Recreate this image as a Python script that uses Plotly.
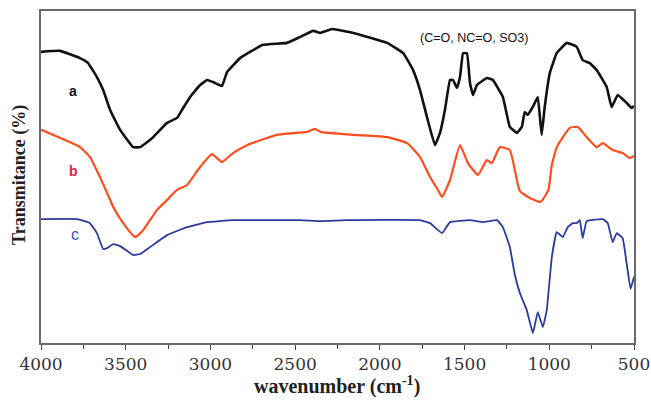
import plotly.graph_objects as go

# FTIR spectra (wavenumber cm-1, transmittance arbitrary units 0-100)
wn_a = [4000, 3888, 3770, 3722, 3670, 3633, 3592, 3533, 3456, 3415, 3338, 3256, 3197, 3168, 3120,
        3061, 3020, 2985, 2932, 2902, 2825, 2690, 2548, 2470, 2393, 2351, 2281, 2157, 1957, 1862,
        1804, 1763, 1722, 1675, 1645, 1616, 1586, 1568, 1545, 1527, 1509, 1486, 1468, 1450, 1427,
        1368, 1333, 1274, 1233, 1191, 1162, 1145, 1127, 1097, 1068, 1045, 1027, 997, 956, 897,
        838, 803, 761, 720, 661, 632, 596, 543, 514, 500]
t_a = [87.7, 88.0, 85.8, 84.3, 80.1, 76.2, 70.2, 64.2, 59.0, 59.0, 62.0, 66.3, 67.8, 70.2, 74.1,
       77.7, 79.2, 78.6, 77.4, 81.6, 85.8, 89.8, 90.4, 92.2, 94.0, 93.4, 94.6, 93.4, 90.4, 87.3,
       82.2, 76.2, 68.1, 59.6, 63.3, 70.2, 79.2, 79.2, 76.8, 80.1, 87.3, 87.3, 78.3, 74.7, 77.7,
       79.8, 79.2, 74.1, 65.1, 63.3, 65.1, 69.6, 68.7, 71.1, 74.1, 62.7, 71.1, 81.3, 87.3, 90.4,
       89.2, 85.2, 84.3, 82.2, 77.1, 71.1, 74.7, 72.3, 70.8, 71.4]

wn_b = [4000, 3770, 3711, 3652, 3592, 3574, 3515, 3444, 3397, 3315, 3256, 3197, 3138, 3061, 2991,
        2932, 2867, 2784, 2607, 2430, 2383, 2351, 2157, 1957, 1839, 1763, 1704, 1657, 1633, 1586,
        1527, 1480, 1421, 1368, 1339, 1292, 1233, 1174, 1115, 1056, 1040, 1005, 985, 956, 879,
        832, 779, 720, 684, 626, 567, 526, 500]
t_b = [64.2, 59.0, 56.0, 50.0, 43.1, 41.0, 36.1, 31.9, 34.0, 40.1, 43.1, 46.1, 47.6, 53.0, 56.9,
       54.5, 57.2, 59.6, 62.7, 63.6, 64.5, 63.6, 62.7, 62.0, 60.2, 56.0, 50.0, 46.1, 44.0, 49.1,
       59.6, 54.2, 50.6, 55.1, 54.2, 59.0, 58.1, 45.8, 43.7, 42.5, 43.1, 46.1, 53.6, 59.0, 64.8,
       65.1, 62.0, 59.0, 60.2, 58.1, 57.2, 55.7, 56.3]

wn_c = [4000, 3788, 3711, 3670, 3633, 3610, 3574, 3533, 3456, 3415, 3356, 3256, 3138, 3020, 2867,
        2470, 2351, 2200, 1763, 1704, 1633, 1586, 1468, 1391, 1309, 1274, 1233, 1203, 1174, 1133,
        1097, 1068, 1038, 1015, 985, 956, 920, 891, 861, 838, 820, 803, 779, 684, 655,
        626, 602, 567, 538, 520, 500]
t_c = [37.3, 37.3, 36.1, 33.1, 28.3, 28.6, 29.8, 29.2, 26.5, 26.8, 28.9, 32.5, 34.9, 36.4, 37.0,
       37.0, 36.7, 37.0, 37.0, 36.1, 33.1, 36.4, 37.0, 36.4, 37.0, 34.9, 28.9, 20.5, 15.1, 9.9,
       3.0, 9.3, 4.8, 9.9, 25.9, 33.4, 31.9, 34.9, 36.1, 36.1, 37.0, 31.6, 36.7, 37.3, 36.1,
       30.4, 33.1, 31.6, 22.0, 16.3, 19.9]

x_ticks = [4000, 3500, 3000, 2500, 2000, 1500, 1000, 500]

fig = go.Figure()
fig.add_trace(go.Scatter(x=wn_a, y=t_a, mode="lines", line=dict(color="#111111", width=2.6, shape="spline", smoothing=0.3)))
fig.add_trace(go.Scatter(x=wn_b, y=t_b, mode="lines", line=dict(color="#ff4d1f", width=2.2, shape="spline", smoothing=0.4)))
fig.add_trace(go.Scatter(x=wn_c, y=t_c, mode="lines", line=dict(color="#2b3a9e", width=1.8, shape="spline", smoothing=0.3)))

L, R, T, B = 41, 17, 11, 57
W, H = 651, 400
pw, ph = W - L - R, H - T - B

def px(x):
    return (x - L) / pw

def py(y):
    return (H - B - y) / ph

serif = "Liberation Serif, Times New Roman, serif"
tickserif = "DejaVu Serif, serif"
sans = "Liberation Sans, Arial, sans-serif"

def label(x, y, text, font, angle=0):
    return dict(x=px(x), y=py(y), xref="paper", yref="paper", showarrow=False,
                xanchor="center", yanchor="middle", textangle=angle, text=text, font=font)

fig.update_layout(
    width=W, height=H,
    margin=dict(l=L, r=R, t=T, b=B, autoexpand=False),
    paper_bgcolor="white", plot_bgcolor="white",
    showlegend=False,
    xaxis=dict(range=[4000, 500], tickvals=x_ticks, ticktext=[str(v) for v in x_ticks],
               automargin=False,
               showgrid=False, zeroline=False, showline=True, mirror=True,
               linecolor="#6a6a6a", linewidth=1.6,
               ticks="outside", ticklen=5, tickcolor="#444444", tickwidth=1.2,
               minor=dict(dtick=250, tick0=500, ticks="outside", ticklen=4, tickcolor="#444444"),
               tickfont=dict(family=tickserif, size=17, color="#333333")),
    yaxis=dict(range=[0, 100], automargin=False, showgrid=False, zeroline=False, showline=True, mirror=True,
               linecolor="#6a6a6a", linewidth=1.6, showticklabels=False, ticks=""),
    annotations=[
        label(337, 385, "<b>wavenumber (cm<sup>-1</sup>)</b>", dict(family=serif, size=20, color="#222222")),
        label(19, 175, "<b>Transmitance (%)</b>", dict(family=serif, size=18, color="#222222"), -90),
        label(474, 38, "(C=O, NC=O, SO3)", dict(family=sans, size=12.5, color="#111111")),
        label(73, 91, "<b>a</b>", dict(family=sans, size=14, color="#111111")),
        label(73, 171, "<b>b</b>", dict(family=sans, size=14, color="#e8184a")),
        label(75, 234, "c", dict(family=sans, size=16, color="#3b4fc8")),
    ],
)

fig.write_html("out.html", config={"displayModeBar": False},
               post_script="document.body.style.margin='0';")
